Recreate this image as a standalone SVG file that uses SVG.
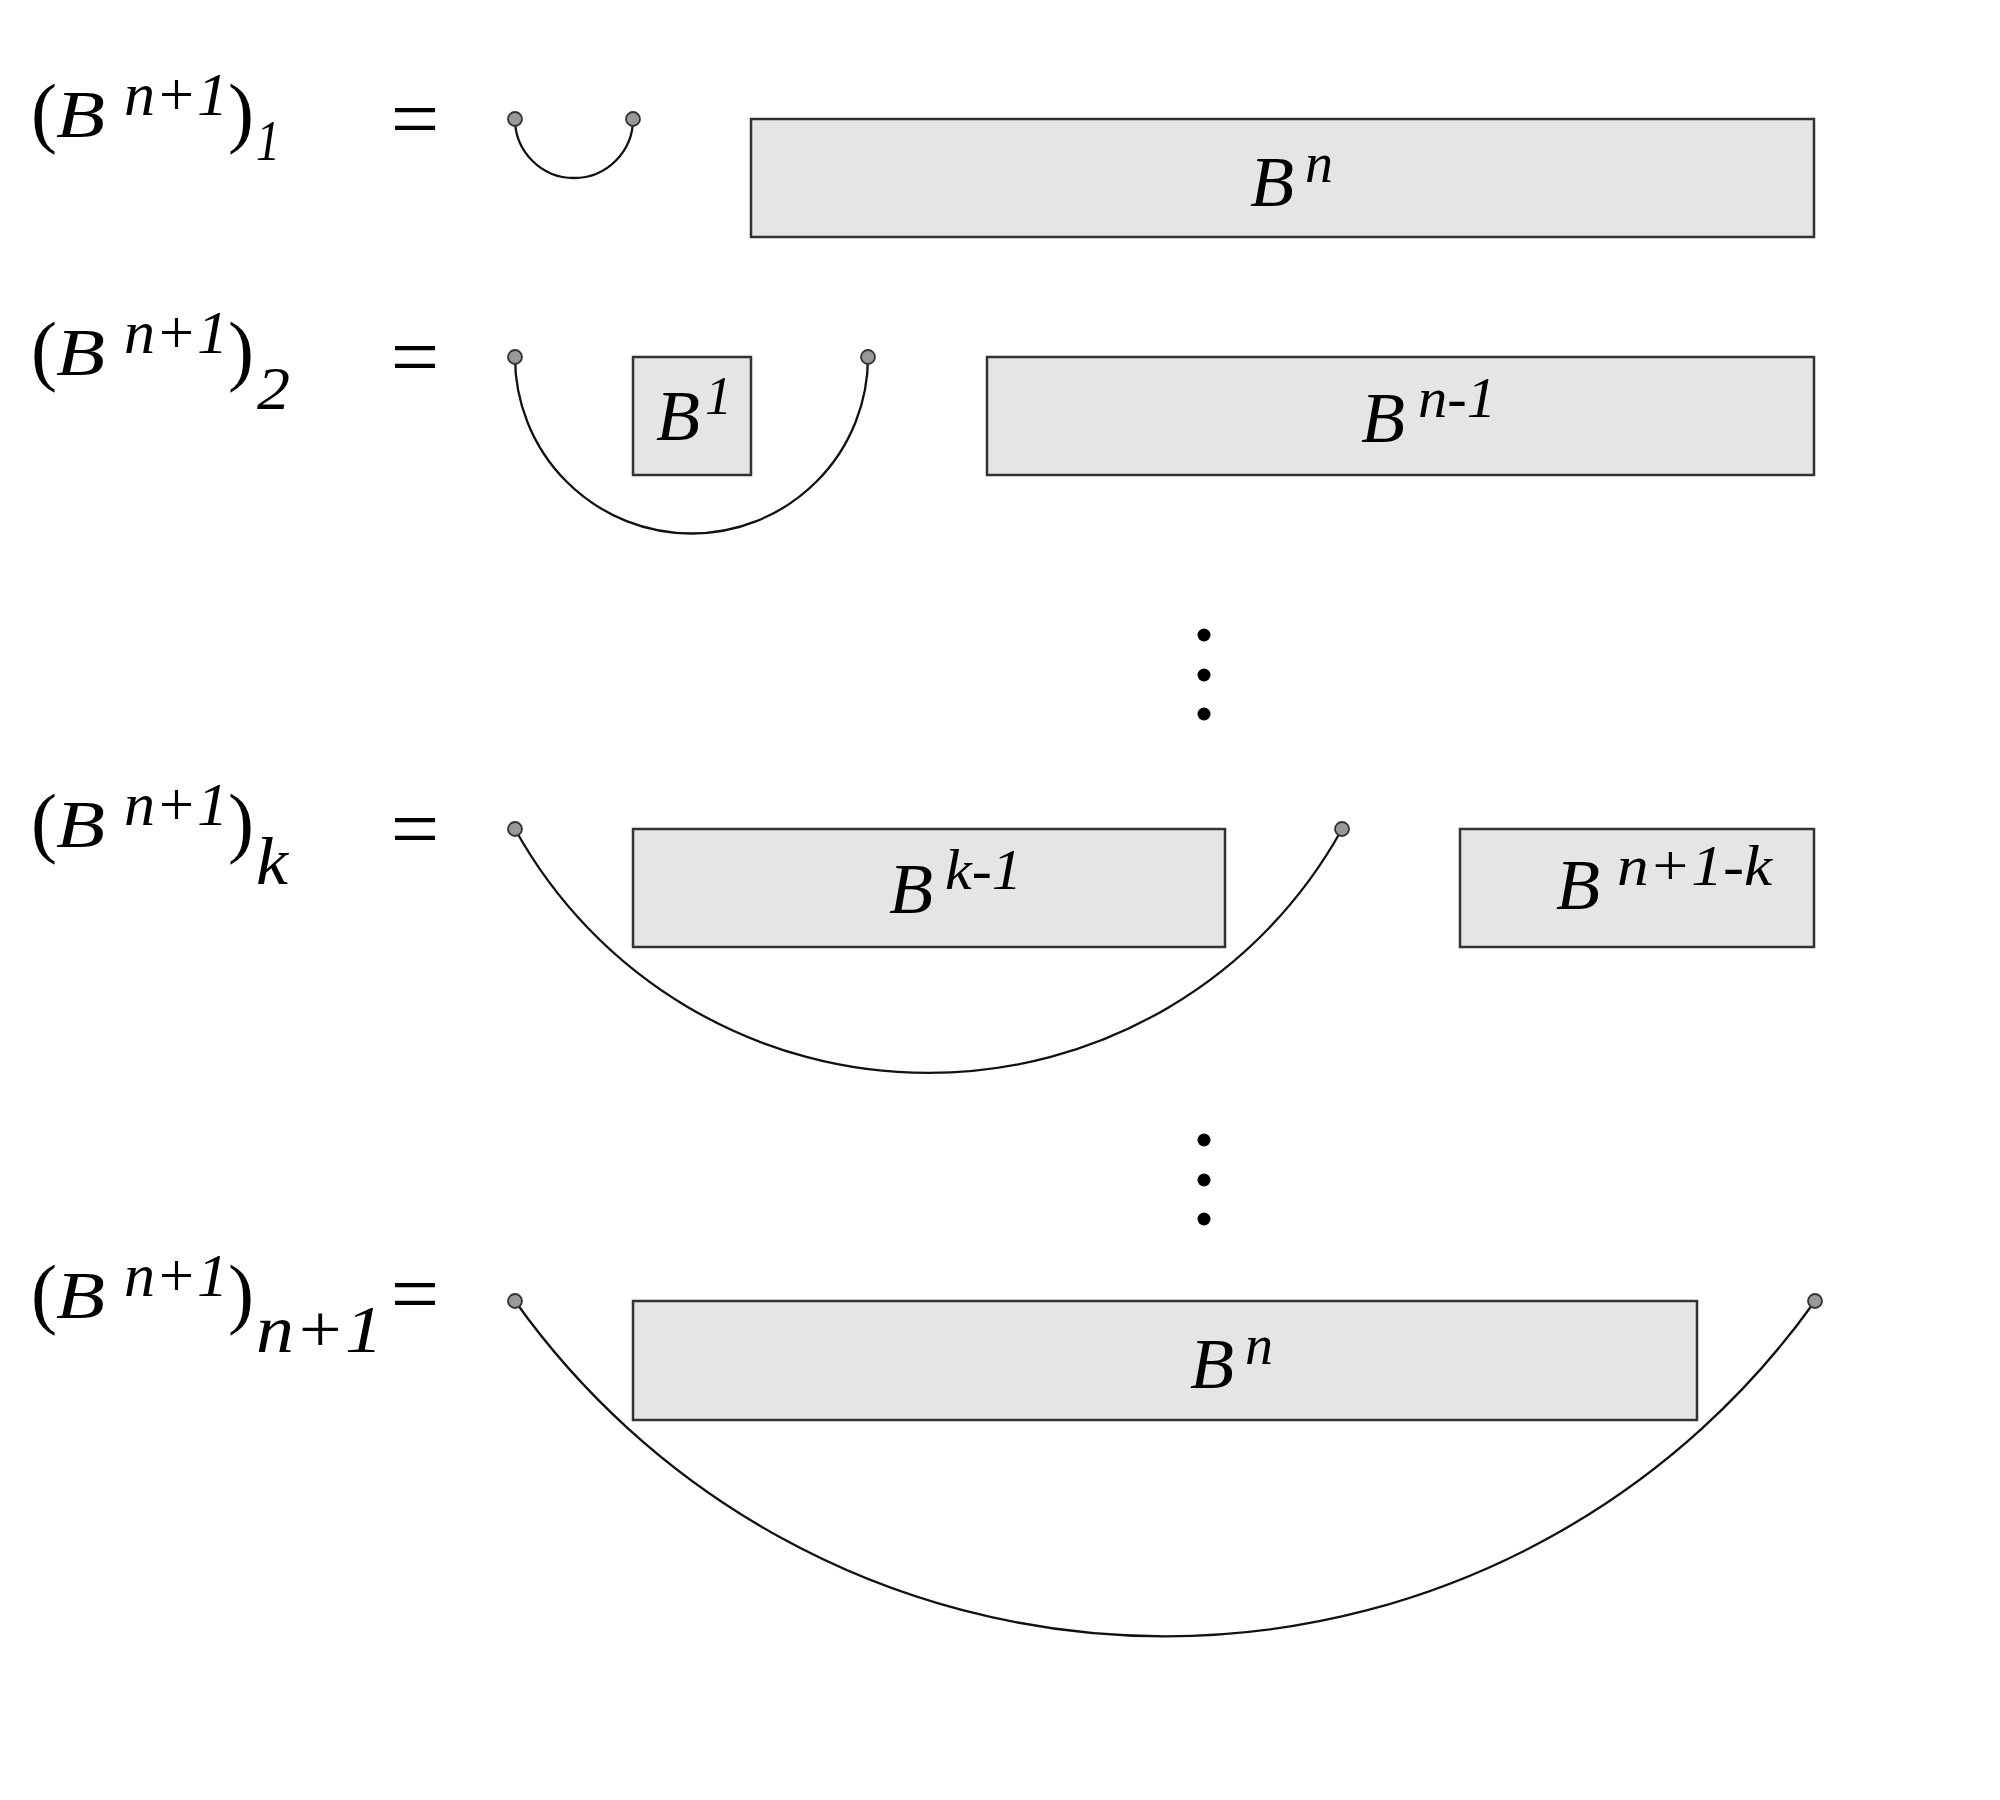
<svg xmlns="http://www.w3.org/2000/svg" width="2000" height="1800" viewBox="0 0 2000 1800">
<style>
.bg{fill:#ffffff}
.box{fill:#e5e5e5;stroke:#333333;stroke-width:2.5}
.arc{fill:none;stroke:#111111;stroke-width:2.3}
.end{fill:#999999;stroke:#333333;stroke-width:1.8}
.vdot{fill:#000000}
.m{font-family:"Liberation Serif","Times New Roman",serif;font-style:italic;fill:#000}
.p{font-family:"Liberation Serif","Times New Roman",serif;font-style:normal;fill:#000;font-size:78px}
.eq{font-family:"Liberation Serif","Times New Roman",serif;font-style:normal;fill:#000;font-size:86px;text-anchor:middle}
.lb{font-size:68px}
.ls{font-size:62px}
.bb{font-size:72px}
.bs{font-size:56px}
</style>
<rect class="bg" x="0" y="0" width="2000" height="1800"/>

<g id="label-1">
<text class="p" x="31" y="138">(</text>
<text class="m lb" x="56" y="137" textLength="49" lengthAdjust="spacingAndGlyphs">B</text>
<text class="m ls" x="124" y="115" textLength="104" lengthAdjust="spacingAndGlyphs">n+1</text>
<text class="p" x="228" y="138">)</text>
<text class="m" font-size="56" x="256" y="160" textLength="24" lengthAdjust="spacingAndGlyphs">1</text>
<text class="eq" x="415" y="148">=</text>
</g>

<g id="label-2">
<text class="p" x="31" y="376">(</text>
<text class="m lb" x="56" y="375" textLength="49" lengthAdjust="spacingAndGlyphs">B</text>
<text class="m ls" x="124" y="353" textLength="104" lengthAdjust="spacingAndGlyphs">n+1</text>
<text class="p" x="228" y="376">)</text>
<text class="m" font-size="62" x="257" y="409" textLength="33" lengthAdjust="spacingAndGlyphs">2</text>
<text class="eq" x="415" y="386">=</text>
</g>

<g id="label-k">
<text class="p" x="31" y="848">(</text>
<text class="m lb" x="56" y="847" textLength="49" lengthAdjust="spacingAndGlyphs">B</text>
<text class="m ls" x="124" y="825" textLength="104" lengthAdjust="spacingAndGlyphs">n+1</text>
<text class="p" x="228" y="848">)</text>
<text class="m" font-size="68" x="256" y="884" textLength="32" lengthAdjust="spacingAndGlyphs">k</text>
<text class="eq" x="415" y="858">=</text>
</g>

<g id="label-n1">
<text class="p" x="31" y="1319">(</text>
<text class="m lb" x="56" y="1318" textLength="49" lengthAdjust="spacingAndGlyphs">B</text>
<text class="m ls" x="124" y="1296" textLength="104" lengthAdjust="spacingAndGlyphs">n+1</text>
<text class="p" x="228" y="1319">)</text>
<text class="m" font-size="68" x="256" y="1352" textLength="127" lengthAdjust="spacingAndGlyphs">n+1</text>
<text class="eq" x="415" y="1323">=</text>
</g>

<g id="box-1-Bn">
<rect class="box" x="751" y="119" width="1063" height="118"/>
<text class="m bb" x="1250" y="206">B</text>
<text class="m bs" x="1305" y="182">n</text>
</g>

<g id="box-2-B1">
<rect class="box" x="633" y="357" width="118" height="118"/>
<text class="m bb" x="656" y="440">B</text>
<text class="m" font-size="54" x="705" y="414">1</text>
</g>

<g id="box-2-Bn-1">
<rect class="box" x="987" y="357" width="827" height="118"/>
<text class="m bb" x="1361" y="442">B</text>
<text class="m bs" x="1418" y="417" textLength="78" lengthAdjust="spacingAndGlyphs">n-1</text>
</g>

<g id="box-k-Bk-1">
<rect class="box" x="633" y="829" width="592" height="118"/>
<text class="m bb" x="889" y="913">B</text>
<text class="m bs" x="945" y="889" textLength="77" lengthAdjust="spacingAndGlyphs">k-1</text>
</g>

<g id="box-k-Bn1k">
<rect class="box" x="1460" y="829" width="354" height="118"/>
<text class="m bb" x="1556" y="909">B</text>
<text class="m bs" x="1617" y="885" textLength="155" lengthAdjust="spacingAndGlyphs">n+1-k</text>
</g>

<g id="box-n1-Bn">
<rect class="box" x="633" y="1301" width="1064" height="119"/>
<text class="m bb" x="1190" y="1388">B</text>
<text class="m bs" x="1245" y="1364">n</text>
</g>

<g id="connectors">
<path class="arc" d="M515,119 A59,59 0 0 0 633,119"/>
<path class="arc" d="M515,357 A176.5,176.5 0 0 0 868,357"/>
<path class="arc" d="M515,829 A472.4,472.4 0 0 0 1342,829"/>
<path class="arc" d="M515,1301 A797.7,797.7 0 0 0 1815,1301"/>
</g>

<g id="endpoints">
<circle class="end" cx="515" cy="119" r="7"/>
<circle class="end" cx="633" cy="119" r="7"/>
<circle class="end" cx="515" cy="357" r="7"/>
<circle class="end" cx="868" cy="357" r="7"/>
<circle class="end" cx="515" cy="829" r="7"/>
<circle class="end" cx="1342" cy="829" r="7"/>
<circle class="end" cx="515" cy="1301" r="7"/>
<circle class="end" cx="1815" cy="1301" r="7"/>
</g>

<g id="ellipsis-1">
<circle class="vdot" cx="1204" cy="635" r="6.5"/>
<circle class="vdot" cx="1204" cy="675" r="6.5"/>
<circle class="vdot" cx="1204" cy="714" r="6.5"/>
</g>
<g id="ellipsis-2">
<circle class="vdot" cx="1204" cy="1140" r="6.5"/>
<circle class="vdot" cx="1204" cy="1180" r="6.5"/>
<circle class="vdot" cx="1204" cy="1219" r="6.5"/>
</g>
</svg>
